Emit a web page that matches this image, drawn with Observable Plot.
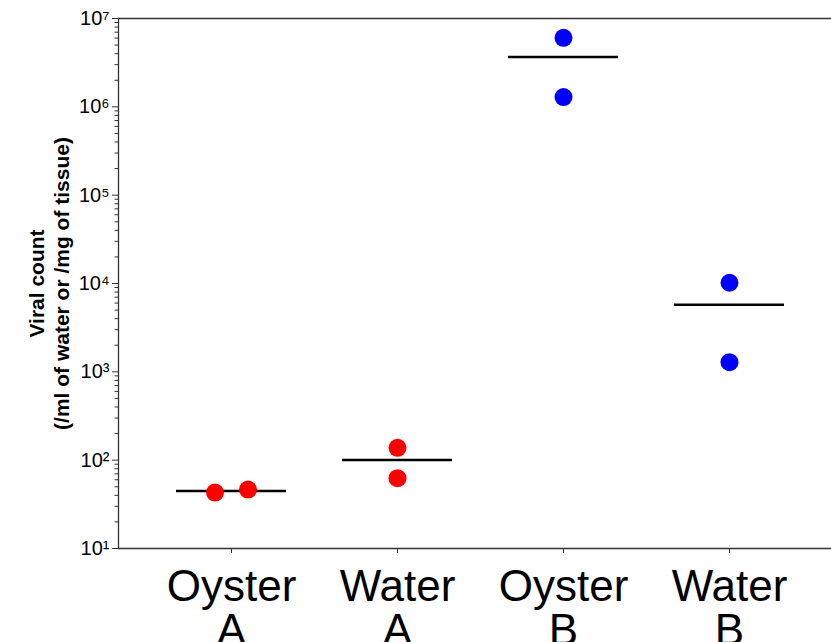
<!DOCTYPE html>
<html>
<head>
<meta charset="utf-8">
<script src="https://cdn.jsdelivr.net/npm/d3@7"></script>
<script src="https://cdn.jsdelivr.net/npm/@observablehq/plot@0.6"></script>
<style>
  html, body { margin: 0; padding: 0; background: #fff; }
  #chart { width: 831px; height: 642px; }
  svg { font-family: "Liberation Sans", Arial, Helvetica, sans-serif; }
</style>
</head>
<body>
<div id="chart"></div>
<script>
// ---- data ----
const categories = ["Oyster A", "Water A", "Oyster B", "Water B"];
const oysterA = [43, 46.5];
const waterA = [138, 62.5];
const oysterB = [6050000, 1290000];
const waterB = [10200, 1285];
const groupColors = ["#ff0000", "#ff0000", "#0000ff", "#0000ff"];
const majorTicks = [1e1, 1e2, 1e3, 1e4, 1e5, 1e6, 1e7];
const yTitle = "Viral count\n(/ml of water or /mg of tissue)";

// ---- build table ----
const W = 831, H = 642;
const mTop = 18, mBottom = 94, mLeft = 118, mRight = 0;
const R = 9;
const pxPerDecade = (H - mTop - mBottom) / 6;
const series = [oysterA, waterA, oysterB, waterB];
const data = [];
series.forEach((vals, gi) => {
  const gap = Math.abs(Math.log10(vals[0] / vals[1])) * pxPerDecade;
  const overlap = gap < 2 * R + 2;
  vals.forEach((v, i) => {
    data.push({
      cat: categories[gi],
      value: v,
      color: groupColors[gi],
      off: overlap ? (i === 0 ? -1 : 1) : 0
    });
  });
});
const minorTicks = [];
for (let e = 1; e < 7; e++) for (let k = 2; k <= 9; k++) minorTicks.push(k * 10 ** e);

const sup = "⁰¹²³⁴⁵⁶⁷⁸⁹";
const fmtPow = d => "10" + String(Math.round(Math.log10(d))).split("").map(c => sup[+c]).join("");

const dotsFor = (o) => Plot.dot(data.filter(d => d.off === o), {
  x: "cat", y: "value", r: R, fill: "color", stroke: "none", dx: o * 16.5
});

const chart = Plot.plot({
  width: W,
  height: H,
  marginTop: mTop,
  marginBottom: mBottom,
  marginLeft: mLeft,
  marginRight: mRight,
  style: { background: "#fff", color: "#000", fontFamily: "Liberation Sans, Arial, sans-serif" },
  x: { type: "band", domain: categories, range: [174.5, 786.5], paddingInner: 0.335, paddingOuter: 0, label: null },
  y: { type: "log", domain: [10, 1e7], label: null },
  marks: [
    Plot.ruleY([1e7, 10], { stroke: "#333", strokeWidth: 1.3 }),
    Plot.frame({ anchor: "left", stroke: "#333", strokeWidth: 1.3 }),
    Plot.axisY({ ticks: minorTicks, tickSize: 3.5, text: null, stroke: "#333", label: null }),
    Plot.axisY({ ticks: majorTicks, tickSize: 6, tickPadding: 3, tickFormat: fmtPow, fontSize: 20, stroke: "#333", label: null }),
    Plot.axisX({ tickSize: 5, tickPadding: 16, fontSize: 44, lineHeight: 1.0, stroke: "#333",
                 tickFormat: d => d.replace(" ", "\n"), label: null }),
    Plot.text([yTitle], { frameAnchor: "left", text: d => d, rotate: -90, dx: -70, fontSize: 21,
                          fontWeight: "bold", lineHeight: 1.19, lineAnchor: "middle", textAnchor: "middle", fill: "#000" }),
    Plot.tickY(data, Plot.groupX({ y: "mean" }, { x: "cat", y: "value", stroke: "#000", strokeWidth: 2.5 })),
    dotsFor(-1),
    dotsFor(0),
    dotsFor(1)
  ]
});
document.getElementById("chart").appendChild(chart);
</script>
</body>
</html>
